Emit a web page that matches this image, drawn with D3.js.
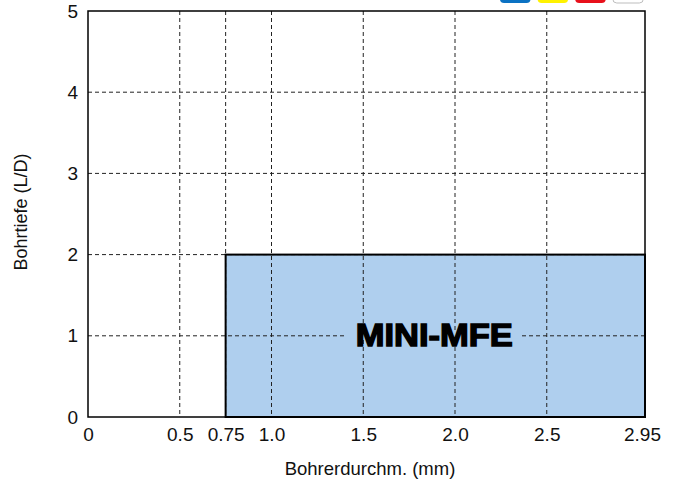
<!DOCTYPE html>
<html>
<head>
<meta charset="utf-8">
<script src="https://cdn.jsdelivr.net/npm/d3@7"></script>
<style>
  body { margin: 0; background: #fff; }
  text { font-family: Arial, "Liberation Sans", sans-serif; }
</style>
</head>
<body>
<svg id="chart"></svg>
<script>
// Chart data
const xTickValues = [0, 0.5, 0.75, 1.0, 1.5, 2.0, 2.5, 2.95];
const xTickLabels = ['0', '0.5', '0.75', '1.0', '1.5', '2.0', '2.5', '2.95'];
const xGridValues = [0.5, 0.75, 1.0, 1.5, 2.0, 2.5];
const yTickValues = [0, 1, 2, 3, 4, 5];
const yGridValues = [1, 2, 3, 4];
const areaNames = ['MINI-MFE'];
const areaDiameterFrom = [0.75];
const areaDiameterTo = [2.95];
const areaDepth = [2];
const swatchColors = ['#0b72c3', '#fff200', '#e8101b', '#ffffff'];

const containerWidth = 678, containerHeight = 479;
const margin = {top: 11, right: 33, bottom: 62, left: 88};
const width = containerWidth - margin.left - margin.right;
const height = containerHeight - margin.top - margin.bottom;

const svg = d3.select('#chart')
  .attr('width', containerWidth)
  .attr('height', containerHeight);

// swatches cut off at the top edge
svg.selectAll('.swatch')
  .data(swatchColors)
  .join('rect')
  .attr('class', 'swatch')
  .attr('x', (d, i) => 500 + i * 37.6)
  .attr('y', -10)
  .attr('width', 30.5)
  .attr('height', 13)
  .attr('rx', 4)
  .attr('fill', d => d)
  .attr('stroke', d => d === '#ffffff' ? '#bdbdbd' : 'none');

const chart = svg.append('g')
  .attr('transform', `translate(${margin.left},${margin.top})`);

// the axis is linear up to 2.5, the last tick 2.95 sits at the frame edge
const xScale = d3.scaleLinear()
  .domain([0, 2.5, 2.95])
  .range([0, width * 458.75 / 557, width]);

const yScale = d3.scaleLinear()
  .domain([0, 5])
  .range([height, 0]);

const areas = areaNames.map((name, i) => ({
  name, from: areaDiameterFrom[i], to: areaDiameterTo[i], depth: areaDepth[i]
}));

const areaFill = '#afcfee';

// area fill first, grid drawn over it
chart.selectAll('.area')
  .data(areas)
  .join('rect')
  .attr('class', 'area')
  .attr('x', d => xScale(d.from))
  .attr('y', d => yScale(d.depth))
  .attr('width', d => xScale(d.to) - xScale(d.from))
  .attr('height', d => height - yScale(d.depth))
  .attr('fill', areaFill);

// dashed grid
chart.selectAll('.vgrid')
  .data(xGridValues)
  .join('line')
  .attr('class', 'vgrid')
  .attr('x1', d => xScale(d)).attr('x2', d => xScale(d))
  .attr('y1', 0).attr('y2', height)
  .attr('stroke', '#222')
  .attr('stroke-width', 1)
  .attr('stroke-dasharray', '4,3');

chart.selectAll('.hgrid')
  .data(yGridValues)
  .join('line')
  .attr('class', 'hgrid')
  .attr('x1', 0).attr('x2', width)
  .attr('y1', d => yScale(d)).attr('y2', d => yScale(d))
  .attr('stroke', '#222')
  .attr('stroke-width', 1)
  .attr('stroke-dasharray', '4,3');

// area outline on top of the grid
chart.selectAll('.area-outline')
  .data(areas)
  .join('rect')
  .attr('class', 'area-outline')
  .attr('x', d => xScale(d.from))
  .attr('y', d => yScale(d.depth))
  .attr('width', d => xScale(d.to) - xScale(d.from))
  .attr('height', d => height - yScale(d.depth))
  .attr('fill', 'none')
  .attr('stroke', '#000')
  .attr('stroke-width', 2);

// label with a solid background that hides the horizontal grid line
const labels = chart.selectAll('.area-label')
  .data(areas)
  .join('g')
  .attr('class', 'area-label')
  .attr('transform', d => `translate(${(xScale(d.from) + xScale(d.to)) / 2 - 1},${yScale(d.depth / 2)})`);

labels.append('rect')
  .attr('x', -90).attr('y', -3)
  .attr('width', 177).attr('height', 6)
  .attr('fill', areaFill);

labels.append('text')
  .attr('text-anchor', 'middle')
  .attr('y', 10.5)
  .attr('font-size', 31)
  .attr('font-weight', 'bold')
  .attr('textLength', 157)
  .attr('lengthAdjust', 'spacingAndGlyphs')
  .attr('fill', '#000')
  .attr('stroke', '#000')
  .attr('stroke-width', 1.4)
  .text(d => d.name);

// frame
chart.append('rect')
  .attr('width', width)
  .attr('height', height)
  .attr('fill', 'none')
  .attr('stroke', '#000')
  .attr('stroke-width', 1.5);

// axes
const xAxis = d3.axisBottom(xScale)
  .tickValues(xTickValues)
  .tickFormat((d, i) => xTickLabels[i])
  .tickSize(0)
  .tickPadding(11);

const yAxis = d3.axisLeft(yScale)
  .tickValues(yTickValues)
  .tickFormat(d3.format('d'))
  .tickSize(0)
  .tickPadding(10);

const xAxisG = chart.append('g')
  .attr('transform', `translate(0,${height})`)
  .call(xAxis);
xAxisG.select('.domain').remove();
xAxisG.selectAll('text')
  .attr('font-size', 19)
  .attr('fill', '#111')
  .attr('dx', (d, i) => i === xTickValues.length - 1 ? -3 : 0);

const yAxisG = chart.append('g').call(yAxis);
yAxisG.select('.domain').remove();
yAxisG.selectAll('text')
  .attr('font-size', 19)
  .attr('fill', '#111');

// axis titles
svg.append('text')
  .attr('x', 370)
  .attr('y', 475)
  .attr('text-anchor', 'middle')
  .attr('font-size', 18.5)
  .attr('fill', '#111')
  .text('Bohrerdurchm. (mm)');

svg.append('text')
  .attr('transform', 'translate(27,212) rotate(-90)')
  .attr('text-anchor', 'middle')
  .attr('font-size', 18)
  .attr('fill', '#111')
  .text('Bohrtiefe (L/D)');
</script>
</body>
</html>
